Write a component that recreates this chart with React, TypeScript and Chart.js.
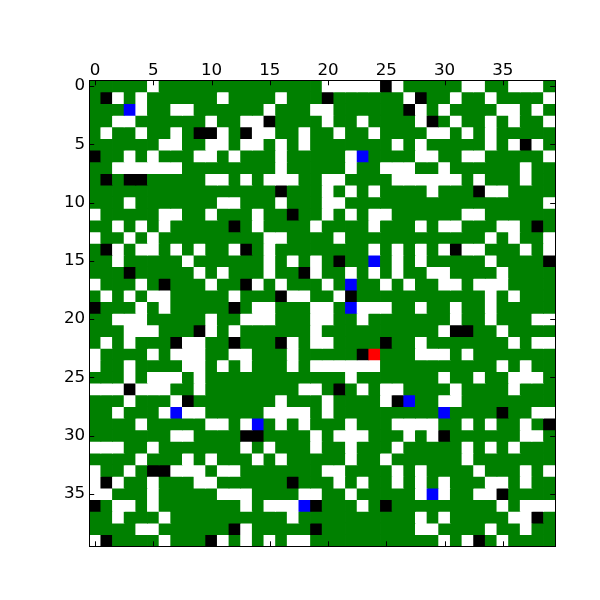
import React, { useEffect, useRef } from 'react';
import { Chart, registerables } from 'chart.js';

Chart.register(...registerables);

// Cell codes: W = white, G = green, K = black, B = blue, R = red
const GRID_ROWS: string[] = [
  'GGGGGWGGGGGGGGGGGGGG' + 'WWWWWKWGGGGGWWGGWWWG',
  'GKWGWGGGGGGWGGGGWGGG' + 'KGGGGGGWKGGWGGWGGGGW',
  'GGGBWGGWWGGGGGGWGGGW' + 'WGGGGGGKWGWGGGGWWGWG',
  'GGWWGGGGGGWGGWWKGGGG' + 'WGGWGGGGWKGWGGWGWGGW',
  'GWGGWGGWGKKWGKWWGGWG' + 'GWGGWGGGGWWGWGWGGGGG',
  'GGGGGGWWGGWWGWWGWGWG' + 'GGGGGGWGWGGGGGWGWKWG',
  'KGGWGWGGGWWGWGGGWGGG' + 'GGWBGGGGWWGGWWGGGGGW',
  'GGWWWWWWGGGGGGGGWGGG' + 'GGWGGWWWGGWGGGGGGWGG',
  'GKGKKGGGGGWWGWGWWWGG' + 'WWGGGGWWWWWWGWGGGWGG',
  'GGGGGGGGGGGGGGGGKGGG' + 'WGWGWGGGGWGGGKWWGGGG',
  'GGGWGGGGGGGWWGGGWGGG' + 'WWGGGGGGGGGGGGGGGGGW',
  'WGGGGGWWGGWGGGWGGKGG' + 'WGWGWWGGGGGGWWGGGGGG',
  'GGWGWGWGGGGGKGWGGGGW' + 'GGGGWGGGWGWWGGGWWGKG',
  'WGGWGWGGGGGGGGGWWGGG' + 'GWGGGGGGGGGGGGWGWGGW',
  'GKWGWWGWGWGGWKGWGGGG' + 'GGGGWGWGWGWKWWGGGWGW',
  'GGWGGGGGWGGGGGGWGWGW' + 'GKGGBGWGWGGGGGWGGGGK',
  'GGGKGGGGGWGWGGGWGGKW' + 'GGWGWGWGGWWGGGGWGGGG',
  'WGGGWGKGGGWGGKWGWGGG' + 'WGBGGWGWGGWWGWWWGGGG',
  'GWGWGWWGGGGGWGGGKWWG' + 'GWKGGGGGGGGGGGWGWGGG',
  'KGGGWGWGGGGGKGWWGGGW' + 'WGBWWWGGWGGWGGWGGGGG',
  'GGWWWGGGGGWGGWWWGGGW' + 'WGGWGGGGGGGWGGWGGGWW',
  'GGGWWWGGGKWGWGGGGGGW' + 'GGGGGGGGGGWKKGGWGGGG',
  'GWGWGGGKWWGGKGGGKWGW' + 'WGGGGKGGWGGGGGGGWGWW',
  'WGGGGWGWWWGGWWGGGWGG' + 'GGGKRGGGWWWGWGGGGGGG',
  'WGGWGGGGWWGWGWGGGWGW' + 'WWWWWGGGGGGGGGGWGWGG',
  'GGGWGWWWGWGGGGGGGGGG' + 'GGWGGGGGGGWGGWGGWWWG',
  'WWWKWWWGGWGGGGGGGGWW' + 'GKGWGWWGGGGWGGGGWGGG',
  'GGGWGGGWKGGGGGGGWGGG' + 'WGGGGWKBGGWWGGGGGGGG',
  'GGWGGGWBWWGGGGGWWWWG' + 'WGGGGGGGGGBGGGGKGGWW',
  'GGGGWGGGGGWWGWBGWGWG' + 'GGWGGGWWWWGGWGWGGWGK',
  'GGGGGGGWWGGGGKKGGGGW' + 'GWWWGGGWGWKGGGGGGWWG',
  'WWWGGWGGGGGGGWGWGGGW' + 'GGWGGGWGGGGGWGWGWGGG',
  'GGGGWGGGWGWGGGWGWGGG' + 'GGWGGWGGGGGGWGGGGGGG',
  'WGGWGKKWWWGWWGGGGGGG' + 'WWGGGGWGWGGGGWGGGWGW',
  'WKWGGWGGGWWGGGGGGKGG' + 'GWGWGGWGWGWGGGWWGWGG',
  'WWGGGWGGGGGWWWGGGGWW' + 'GGWGGGGGWBWGGWWKGGGG',
  'KGWWGWGGGGGGGWGWWWBK' + 'GGGWGKGGGGGGGGGWGWWW',
  'GGWGGGWGGGGGGGGGGWGG' + 'GGGGGGGGWGWGGGGGWWKG',
  'GGGGWWGGGGGGKWGGGGGK' + 'GGGGGGGGWWGGGGWGGWGG',
  'WKGGGGWGGGKWGWGWGWWG' + 'GGGGGGGGGGWGWKGWGGGG',
];

const COLOR_OF: Record<string, string> = {
  W: '#ffffff',
  G: '#008000',
  K: '#000000',
  B: '#0000ff',
  R: '#ff0000',
};

const COLUMN_LABELS: string[] = GRID_ROWS[0].split('').map((_, i) => String(i));
const X_TICKS: number[] = [0, 5, 10, 15, 20, 25, 30, 35];
const Y_TICKS: number[] = [0, 5, 10, 15, 20, 25, 30, 35];

const FONT = { family: '"DejaVu Sans", sans-serif', size: 16.7 };

const framePlugin = {
  id: 'frameTicks',
  afterDatasetsDraw(chart: any) {
    const { ctx, chartArea: a, scales } = chart;
    ctx.save();
    ctx.strokeStyle = '#000000';
    ctx.lineWidth = 1;
    const len = 5;
    ctx.beginPath();
    X_TICKS.forEach((v) => {
      const x = Math.round(scales.x.getPixelForValue(v)) + 0.5;
      ctx.moveTo(x, a.top);
      ctx.lineTo(x, a.top + len);
      ctx.moveTo(x, a.bottom);
      ctx.lineTo(x, a.bottom - len);
    });
    Y_TICKS.forEach((v) => {
      const y = Math.round(scales.y.getPixelForValue(v)) + 0.5;
      ctx.moveTo(a.left, y);
      ctx.lineTo(a.left + len, y);
      ctx.moveTo(a.right, y);
      ctx.lineTo(a.right - len, y);
    });
    ctx.stroke();
    ctx.strokeRect(
      Math.round(a.left) + 0.5,
      Math.round(a.top) + 0.5,
      Math.round(a.right) - Math.round(a.left),
      Math.round(a.bottom) - Math.round(a.top)
    );
    ctx.restore();
  },
};

export default function App() {
  const canvasRef = useRef<HTMLCanvasElement | null>(null);

  useEffect(() => {
    if (!canvasRef.current) return;
    const datasets = GRID_ROWS.map((row, r) => ({
      label: 'row ' + r,
      data: row.split('').map(() => [r - 0.5, r + 0.5]),
      backgroundColor: row.split('').map((ch) => COLOR_OF[ch]),
      borderWidth: 0,
      grouped: false,
      barPercentage: 1,
      categoryPercentage: 1,
      inflateAmount: 0.4,
    }));

    const chart = new Chart(canvasRef.current, {
      type: 'bar',
      data: { labels: COLUMN_LABELS, datasets: datasets as any },
      options: {
        animation: false,
        responsive: false,
        maintainAspectRatio: false,
        layout: { padding: { left: 0, top: 0, right: 44.8, bottom: 53.7 } },
        plugins: {
          legend: { display: false },
          tooltip: { enabled: false },
        },
        scales: {
          x: {
            type: 'category',
            position: 'top',
            offset: true,
            grid: { display: false, drawTicks: false },
            border: { display: false },
            ticks: {
              autoSkip: false,
              maxRotation: 0,
              minRotation: 0,
              padding: 0,
              color: '#000000',
              font: FONT,
              callback: (_v: any, idx: number) => (X_TICKS.includes(idx) ? String(idx) : ''),
            },
            afterFit: (s: any) => {
              s.height = 80.3;
            },
          } as any,
          y: {
            type: 'linear',
            reverse: true,
            min: -0.5,
            max: 39.5,
            grid: { display: false, drawTicks: false },
            border: { display: false },
            ticks: {
              padding: 4,
              color: '#000000',
              font: FONT,
              callback: (v: any) => String(v),
            },
            afterBuildTicks: (s: any) => {
              s.ticks = Y_TICKS.map((v) => ({ value: v }));
            },
            afterFit: (s: any) => {
              s.width = 89.2;
            },
          } as any,
        },
      },
      plugins: [framePlugin],
    });
    return () => chart.destroy();
  }, []);

  return (
    <div style={{ position: 'absolute', left: 0, top: 0, width: 600, height: 600, background: '#ffffff' }}>
      <canvas ref={canvasRef} width={600} height={600} style={{ width: 600, height: 600 }} />
    </div>
  );
}
